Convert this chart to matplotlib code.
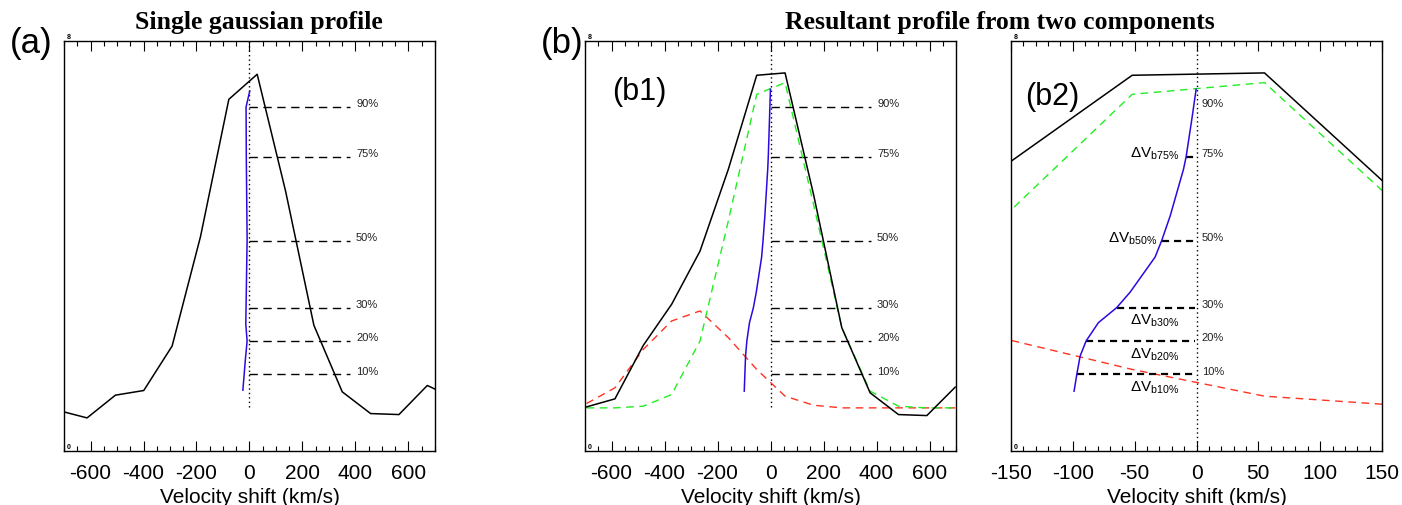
import numpy as np
import matplotlib.pyplot as plt
from matplotlib.ticker import MultipleLocator

plt.rcParams['font.family'] = ['Liberation Sans', 'DejaVu Sans']
plt.rcParams['mathtext.fontset'] = 'custom'
plt.rcParams['mathtext.rm'] = 'Liberation Sans'
plt.rcParams['mathtext.it'] = 'Liberation Sans:italic'
plt.rcParams['axes.unicode_minus'] = False

# ---- data (intensity normalised: base 0, peak 1) ----
# (a) single gaussian profile
vel_a = [-720, -613, -506, -399, -292, -185, -78, 29, 136, 243, 350, 457, 564, 671, 778]
prof_a = [-0.008, -0.030, 0.038, 0.052, 0.185, 0.512, 0.923, 0.998, 0.649,
          0.247, 0.048, -0.017, -0.020, 0.067, 0.027]
bis_a_x = [-25, -15, -9, -14, -13, -9, -12, -13, 1]
bis_a_y = [0.053, 0.150, 0.200, 0.250, 0.300, 0.504, 0.748, 0.900, 0.948]

# (b) resultant profile from two components
vel_b = [-694, -587, -480, -373, -266, -159, -52, 55, 162, 269, 376, 483, 590, 697]
total_b = [0.003, 0.027, 0.187, 0.310, 0.469, 0.714, 0.995, 1.002, 0.640,
           0.240, 0.045, -0.020, -0.023, 0.062]
narrow_b = [0.0, 0.0, 0.005, 0.040, 0.200, 0.560, 0.938, 0.973, 0.610,
            0.240, 0.050, 0.005, 0.0, 0.0]
broad_b = [0.013, 0.060, 0.175, 0.260, 0.290, 0.210, 0.115, 0.035, 0.008,
           0.0, 0.0, 0.0, 0.0, 0.0]
bis_b_x = [-99.0, -96.8, -94.1, -89.3, -79.3, -64.5, -53.7, -33.5, -28.1,
           -21.3, -13.2, -10.5, -8.4, -3.8, -0.3]
bis_b_y = [0.050, 0.100, 0.155, 0.200, 0.255, 0.300, 0.346, 0.451, 0.501,
           0.574, 0.679, 0.714, 0.751, 0.863, 0.953]

levels = [0.1, 0.2, 0.3, 0.5, 0.75, 0.9]
level_labels = ['10%', '20%', '30%', '50%', '75%', '90%']
dv_labels = [r'$\Delta\mathrm{V}_{\mathrm{b10\%}}$', r'$\Delta\mathrm{V}_{\mathrm{b20\%}}$',
             r'$\Delta\mathrm{V}_{\mathrm{b30\%}}$', r'$\Delta\mathrm{V}_{\mathrm{b50\%}}$',
             r'$\Delta\mathrm{V}_{\mathrm{b75\%}}$']

BLUE = '#2a0ae0'
GREEN = '#22ee22'
RED = '#ff3322'
YLIM = (-0.129, 1.0975)

W, H = 1402, 506
fig = plt.figure(figsize=(W / 100, H / 100), dpi=100)


def add_ax(left, right, top=42, bottom=452):
    return fig.add_axes([left / W, 1 - bottom / H, (right - left) / W, (bottom - top) / H])


def style(ax, xlim, major, minor):
    ax.set_xlim(*xlim)
    ax.set_ylim(*YLIM)
    ax.xaxis.set_major_locator(MultipleLocator(major))
    ax.xaxis.set_minor_locator(MultipleLocator(minor))
    ax.set_yticks([])
    ax.tick_params(axis='x', which='both', direction='in', top=True, bottom=True)
    ax.tick_params(axis='x', which='major', length=7, width=0.8, labelsize=15, pad=9)
    ax.tick_params(axis='x', which='minor', length=3.5, width=0.8)
    ax.set_xlabel('Velocity shift (km/s)', fontsize=15, va='top')
    ax.xaxis.set_label_coords(0.5, -0.089)
    for s in ax.spines.values():
        s.set_linewidth(1.0)
    # tiny corner glyphs
    ax.text(0.008, 1.012, '8', transform=ax.transAxes, fontsize=5, fontweight='bold',
            ha='left', va='center')
    ax.text(0.008, 0.012, '0', transform=ax.transAxes, fontsize=5, fontweight='bold',
            ha='left', va='center')


def level_lines(ax, x_end, x_text):
    ax.hlines(levels, 0, x_end, colors='k', lw=1.0, linestyles=(0, (6, 4)))
    for lev, lab in zip(levels, level_labels):
        ax.text(x_text, lev + 0.011, lab, fontsize=8, ha='left', va='center', color='#222222')


# ---- (a) ----
ax_a = add_ax(64, 435)
style(ax_a, (-700, 700), 200, 50)
ax_a.axvline(0, ymin=0.108, ymax=1, color='k', lw=1.0, dashes=(1, 2.2))
level_lines(ax_a, 380, 402)
ax_a.plot(vel_a, prof_a, color='k', lw=1.1)
ax_a.plot(bis_a_x, bis_a_y, color=BLUE, lw=1.1)

# ---- (b1) ----
ax_b1 = add_ax(585, 956)
style(ax_b1, (-700, 700), 200, 50)
ax_b1.axvline(0, ymin=0.108, ymax=1, color='k', lw=1.0, dashes=(1, 2.2))
level_lines(ax_b1, 380, 402)
ax_b1.plot(vel_b, broad_b, color=RED, lw=1.0, dashes=(5.5, 4))
ax_b1.plot(vel_b, narrow_b, color=GREEN, lw=1.0, dashes=(5.5, 4))
ax_b1.plot(vel_b, total_b, color='k', lw=1.1)
ax_b1.plot(bis_b_x, bis_b_y, color=BLUE, lw=1.1)

# ---- (b2) ----
ax_b2 = add_ax(1011, 1382)
style(ax_b2, (-150, 150), 50, 10)
ax_b2.axvline(0, color='k', lw=1.0, dashes=(1, 2.2))
ax_b2.plot(vel_b, broad_b, color=RED, lw=1.0, dashes=(5.5, 4))
ax_b2.plot(vel_b, narrow_b, color=GREEN, lw=1.0, dashes=(5.5, 4))
ax_b2.plot(vel_b, total_b, color='k', lw=1.1)
bx = np.interp(levels[:5], bis_b_y, bis_b_x)
ax_b2.hlines(levels[:5], bx, -1, colors='k', lw=1.6, linestyles=(0, (3.2, 2.2)))
ax_b2.plot(bis_b_x, bis_b_y, color=BLUE, lw=1.1)
for lev, lab in zip(levels, level_labels):
    ax_b2.text(4.3, lev + 0.011, lab, fontsize=8, ha='left', va='center', color='#222222')
# delta-V labels: 10/20/30 under the lines, 50/75 to the left of the blue curve
for lev, lab in zip(levels[:3], dv_labels[:3]):
    ax_b2.text(-33.5, lev - 0.038, lab, fontsize=11, ha='center', va='center')
ax_b2.text(-31.5, 0.51, dv_labels[3], fontsize=11, ha='right', va='center')
ax_b2.text(-13.5, 0.762, dv_labels[4], fontsize=11, ha='right', va='center')

# ---- titles / panel labels ----
fig.text(259 / W, 1 - 23 / H, 'Single gaussian profile', family='Liberation Serif',
         fontweight='bold', fontsize=18.5, ha='center', va='center')
fig.text(1000 / W, 1 - 23 / H, 'Resultant profile from two components', family='Liberation Serif',
         fontweight='bold', fontsize=18.5, ha='center', va='center')
fig.text(31 / W, 1 - 44 / H, '(a)', fontsize=25, ha='center', va='center')
fig.text(562 / W, 1 - 44 / H, '(b)', fontsize=25, ha='center', va='center')
fig.text(639 / W, 1 - 92 / H, '(b1)', fontsize=22, ha='center', va='center')
fig.text(1052 / W, 1 - 97 / H, '(b2)', fontsize=22, ha='center', va='center')

fig.savefig('out.png', dpi=100)
